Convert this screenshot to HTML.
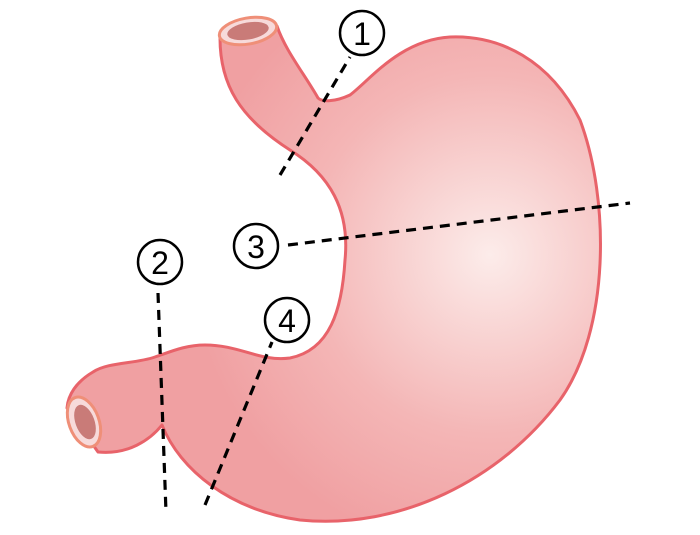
<!DOCTYPE html>
<html><head><meta charset="utf-8"><style>body{margin:0;background:#fff}svg{display:block}</style></head>
<body>
<svg width="700" height="535" viewBox="0 0 700 535" xmlns="http://www.w3.org/2000/svg">
<defs>
<radialGradient id="g" cx="490" cy="255" r="300" gradientUnits="userSpaceOnUse">
<stop offset="0" stop-color="#fcecea"/>
<stop offset="0.6" stop-color="#f4b6b6"/>
<stop offset="1" stop-color="#f0a0a2"/>
</radialGradient>
</defs>
<path d="M 220,38 C 220,85 240,118 290,150 C 330,175 350,210 345,260 C 342,310 330,350 290,358 C 260,362 240,345 205,345 C 185,345 170,352 155,357 C 135,364 108,362 93,372 C 76,382 68,395 67,408 L 98,452 C 128,455 150,440 162,425 C 180,470 230,510 300,520 C 400,530 500,480 560,400 C 610,330 610,200 580,120 C 550,60 500,35 450,37 C 400,40 370,80 350,95 C 335,102 322,102 318,98 C 305,75 285,50 277,26 Z" fill="url(#g)" stroke="#e8636a" stroke-width="3" stroke-linejoin="round"/>
<ellipse cx="248" cy="31" rx="29" ry="13" transform="rotate(-10 248 31)" fill="#f7dada" stroke="#ef8f78" stroke-width="3"/>
<ellipse cx="248" cy="31" rx="21" ry="8.5" transform="rotate(-10 248 31)" fill="#c97b78"/>
<ellipse cx="84" cy="422" rx="15" ry="26" transform="rotate(-20 84 422)" fill="#f7dada" stroke="#ef8f78" stroke-width="3"/>
<ellipse cx="85" cy="422" rx="9.5" ry="18" transform="rotate(-20 85 422)" fill="#c97b78"/>
<g stroke="#000" stroke-width="3.2" stroke-dasharray="10 7" fill="none">
<line x1="280" y1="175" x2="350" y2="57"/>
<line x1="288" y1="245" x2="630" y2="203"/>
<line x1="158" y1="293" x2="166" y2="512"/>
<line x1="205" y1="505" x2="272" y2="342"/>
</g>
<g fill="#fff" stroke="#000" stroke-width="2.5">
<circle cx="362" cy="33" r="22"/>
<circle cx="160" cy="262" r="22"/>
<circle cx="256" cy="246" r="22"/>
<circle cx="287" cy="320" r="22"/>
</g>
<g font-family="Liberation Sans, sans-serif" font-size="32" text-anchor="middle" fill="#000">
<text x="362" y="45">1</text>
<text x="160" y="274">2</text>
<text x="256" y="258">3</text>
<text x="287" y="332">4</text>
</g>
</svg>
</body></html>
